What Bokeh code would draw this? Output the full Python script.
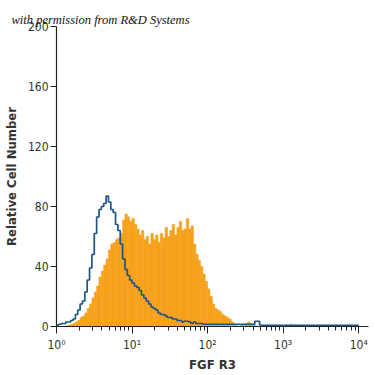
import numpy as np
from bokeh.plotting import figure
from bokeh.models import FixedTicker
from bokeh.embed import file_html
from bokeh.resources import INLINE

# histogram bins: 32 channels per decade, 4 decades (x in log10 units)
bins_per_decade = 32
n_bins = 128

# FGF R3 stained (orange, filled) - counts per channel, starting at channel 0
orange_counts = [0, 0, 0, 0, 0.5, 1, 1.5, 2, 3, 4, 6, 7, 9, 12, 15, 19,
                 23, 27, 33, 37, 41, 45, 51, 55, 56, 58, 59, 62, 71, 75, 73, 70,
                 72, 68, 65, 61, 64, 58, 60, 55, 62, 58, 61, 56, 62, 59, 66, 60,
                 64, 68, 61, 66, 70, 64, 65, 72, 65, 67, 55, 48, 44, 40, 35, 30,
                 25, 20, 15, 12, 11, 10, 8, 7, 6, 5, 3, 1.5, 0.5, 0, 1, 1.5,
                 2, 3, 2, 1, 0.5, 0, 0, 0, 0, 0, 0, 1, 0, 0, 0, 0,
                 0, 1, 0, 1.5, 0, 1, 0, 0, 0, 0, 0, 1, 0, 0, 0, 1,
                 0, 1, 0, 0, 0, 0, 1, 0, 0, 0, 0.5, 0, 0, 0, 0, 0]

# isotype control (blue outline)
blue_counts = [1, 1.5, 2, 2, 3, 3, 4, 5, 8, 11, 15, 17, 23, 31, 39, 48,
               62, 73, 78, 80, 82, 87, 83, 78, 76, 68, 64, 55, 45, 38, 34, 31,
               29, 27, 26, 24, 21, 19, 17, 15, 13, 12, 11, 9, 8, 8, 7, 6,
               6, 5, 5, 4, 4, 3, 3.5, 3.5, 3, 2, 3, 2, 2, 2, 1.5, 1.5,
               1.5, 1.5, 1.5, 1.5, 1.5, 1.5, 1.5, 1.5, 1.5, 1.5, 1.5, 1.5, 1.5, 1.5, 1.5, 1.5,
               1.5, 1.5, 1.5, 1.5, 3.5, 3.5, 1, 0.8, 0.8, 0.8, 0.8, 0.8, 0.8, 0.8, 0.8, 0.8,
               0.8, 0.8, 0.8, 0.8, 0.8, 0.8, 0.8, 0.8, 0.8, 0.8, 0.8, 0.8, 0.8, 0.8, 0.8, 0.8,
               0.8, 0.8, 0.8, 0.8, 0.8, 0.8, 0.8, 0.8, 0.8, 0.8, 0.8, 0.8, 0.8, 0.8, 0.8, 0.8]

y_ticks = [0, 40, 80, 120, 160, 200]
x_decades = [0, 1, 2, 3, 4]
x_tick_labels = ["10\u2070", "10\u00b9", "10\u00b2", "10\u00b3", "10\u2074"]

NARROW = "DejaVu Sans Condensed, Liberation Sans Narrow, Liberation Sans, sans-serif"

edges = np.arange(n_bins + 1) / bins_per_decade
left = edges[:-1]
right = edges[1:]

p = figure(width=372, height=374, x_range=(0, 4.13), y_range=(0, 200),
           output_backend="svg", toolbar_location=None,
           title="with permission from R&D Systems",
           min_border_left=55, min_border_right=4, min_border_top=26, min_border_bottom=46)
p.outline_line_color = None
p.xgrid.visible = False
p.ygrid.visible = False
p.background_fill_color = "white"

p.title.align = "left"
p.title.offset = -45
p.title.standoff = 0
p.title.text_font = "Liberation Serif"
p.title.text_font_style = "italic"
p.title.text_font_size = "12.5px"
p.title.text_color = "#111111"

p.quad(left=left, right=right, bottom=0, top=orange_counts,
       fill_color="#f7a11c", line_color="#f7a11c", line_width=0.6)

bx = list(edges)
by = list(blue_counts) + [blue_counts[-1]]
p.step(x=bx, y=by, mode="after", line_color="#1e5584", line_width=1.7)

minor = [d + np.log10(k) for d in x_decades[:-1] for k in range(2, 10)]
p.xaxis.ticker = FixedTicker(ticks=x_decades, minor_ticks=minor)
p.xaxis.major_label_overrides = {d: lab for d, lab in zip(x_decades, x_tick_labels)}
p.yaxis.ticker = FixedTicker(ticks=y_ticks)

for ax in (p.xaxis[0], p.yaxis[0]):
    ax.axis_line_color = "#222222"
    ax.axis_line_width = 1.2
    ax.major_tick_line_color = "#222222"
    ax.minor_tick_line_color = "#222222"
    ax.major_label_text_font = NARROW
    ax.major_label_text_font_size = "12px"
    ax.major_label_text_color = "#333333"
    ax.major_tick_in = 0
    ax.axis_label_text_font = NARROW
    ax.axis_label_text_font_size = "13px"
    ax.axis_label_text_font_style = "bold"
    ax.axis_label_text_color = "#333333"

p.xaxis.axis_label = "FGF R3"
p.yaxis.axis_label = "Relative Cell Number"

p.xaxis.major_tick_out = 7
p.xaxis.minor_tick_in = 0
p.xaxis.minor_tick_out = 4
p.xaxis.major_label_standoff = 4
p.xaxis.axis_label_standoff = 2
p.yaxis.major_tick_out = 6
p.yaxis.minor_tick_in = 0
p.yaxis.minor_tick_out = 0
p.yaxis.major_label_standoff = 2
p.yaxis.axis_label_standoff = 6

open("out.html", "w").write(file_html(p, INLINE))
